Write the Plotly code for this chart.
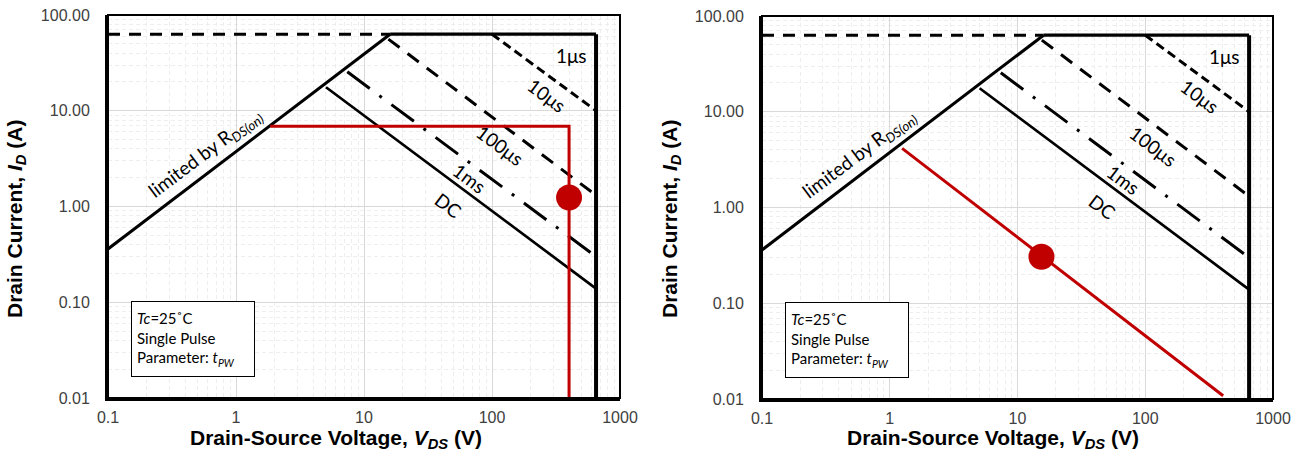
import plotly.graph_objects as go
import math

# ---------------- data ----------------
pulse_limit_V = [0.1, 16.0]          # dashed I_DM line
pulse_limit_I = [63.0, 63.0]
t1us_V = [16.0, 650.0, 650.0]        # 1 us boundary + V_DSS wall
t1us_I = [63.0, 63.0, 0.01]
t10us_V = [100.0, 650.0]
t10us_I = [63.0, 10.0]
t100us_V = [15.5, 650.0]
t100us_I = [56.0, 1.31]
t1ms_V = [7.4, 650.0]
t1ms_I = [25.5, 0.30]
dc_V = [5.05, 650.0]
dc_I = [17.6, 0.139]
rds_V = [0.1, 16.0]
rds_I = [0.36, 63.0]

left_op_V = [1.85, 400.0, 400.0]
left_op_I = [6.9, 6.9, 0.01]
left_pt_V = [400.0]
left_pt_I = [1.24]

right_op_V = [1.25, 407.0]
right_op_I = [4.15, 0.0108]
right_pt_V = [15.4]
right_pt_I = [0.306]

x_tickvals = [0.1, 1, 10, 100, 1000]
x_ticktext = ["0.1", "1", "10", "100", "1000"]
y_tickvals = [0.01, 0.1, 1, 10, 100]
y_ticktext = ["0.01", "0.10", "1.00", "10.00", "100.00"]

curve_labels = ["1μs", "10μs", "100μs", "1ms", "DC", "limited by R<sub><i>DS(on)</i></sub>"]

# ---------------- styling / layout ----------------
W, H = 1307, 456
BLACK = "#000000"
RED = "#C00000"
LABEL_FONT = "Lato, Calibri, Carlito, sans-serif"
AX_FONT = "Liberation Sans, Arial, sans-serif"

# label anchor positions in data coordinates (V, A) and rotation
label_pos = [(420, 38.2, 0), (270, 14.4, 36.8), (117, 4.38, 36.8),
             (67.3, 1.96, 36.8), (46.1, 1.035, 36.8), (0.58, 3.6, -36.8)]

panels = [
    dict(xd=[108 / W, 620 / W], yd=[1 - 398 / H, 1 - 15 / H],
         op=(left_op_V, left_op_I), pt=(left_pt_V, left_pt_I),
         ytitle_x=16, xtitle_x=336),
    dict(xd=[762 / W, 1273 / W], yd=[1 - 399 / H, 1 - 16 / H],
         op=(right_op_V, right_op_I), pt=(right_pt_V, right_pt_I),
         ytitle_x=671, xtitle_x=993),
]

minor_x = [m * 10 ** e for e in range(-1, 3) for m in range(2, 10)]
minor_y = [m * 10 ** e for e in range(-2, 2) for m in range(2, 10)]

fig = go.Figure()
annotations = []
shapes = []
layout = {}

for i, p in enumerate(panels):
    n = "" if i == 0 else str(i + 1)
    xa, ya = "x" + n, "y" + n

    def add(xv, yv, width, dash="solid", color=BLACK):
        fig.add_trace(go.Scatter(x=xv, y=yv, mode="lines", xaxis=xa, yaxis=ya,
                                 line=dict(color=color, width=width, dash=dash),
                                 showlegend=False, hoverinfo="skip"))

    add(pulse_limit_V, pulse_limit_I, 3, "12px,9px")
    add(t10us_V, t10us_I, 3, "9px,5px")
    add(t100us_V, t100us_I, 3, "14px,10px")
    add(t1ms_V, t1ms_I, 3, "28px,12px,3px,12px")
    add(dc_V, dc_I, 2.7)
    add(rds_V, rds_I, 3)
    add(t1us_V[:2], t1us_I[:2], 3.3)
    add(t1us_V[1:], t1us_I[1:], 4)
    add(p["op"][0], p["op"][1], 3, color=RED)
    fig.add_trace(go.Scatter(x=p["pt"][0], y=p["pt"][1], mode="markers", xaxis=xa, yaxis=ya,
                             marker=dict(color=RED, size=26), showlegend=False, hoverinfo="skip"))

    axis_common = dict(type="log", showgrid=True, gridcolor="#d9d9d9", gridwidth=1,
                       zeroline=False, ticks="", showline=True, linecolor=BLACK, linewidth=3,
                       automargin=False,
                       tickfont=dict(family=AX_FONT, size=16, color="#404040"),
                       tickmode="array")
    layout["xaxis" + n] = dict(axis_common, domain=p["xd"], range=[-1, 3], anchor=ya,
                               tickvals=x_tickvals, ticktext=x_ticktext, ticklabelstandoff=3,
                               minor=dict(tickvals=minor_x, showgrid=True, gridcolor="#eeeeee",
                                          griddash="4px,3px", gridwidth=1, ticks=""))
    layout["yaxis" + n] = dict(axis_common, domain=p["yd"], range=[-2, 2], anchor=xa,
                               tickvals=y_tickvals, ticktext=y_ticktext, ticklabelstandoff=12,
                               minor=dict(tickvals=minor_y, showgrid=True, gridcolor="#eeeeee",
                                          griddash="4px,3px", gridwidth=1, ticks=""))
    shapes.append(dict(type="rect", xref=xa + " domain", yref=ya + " domain", x0=0, x1=1, y0=0, y1=1,
                       line=dict(color=BLACK, width=2), layer="above"))

    for txt, (lx, ly, ang) in zip(curve_labels, label_pos):
        annotations.append(dict(x=math.log10(lx), y=math.log10(ly), xref=xa, yref=ya, text=txt,
                                showarrow=False, textangle=ang,
                                font=dict(family=LABEL_FONT, size=19, color=BLACK)))

    # parameter box
    annotations.append(dict(x=0.045, y=0.254, xref=xa + " domain", yref=ya + " domain",
                            xanchor="left", yanchor="top", width=112, height=64,
                            text="<i>Tc</i>=25˚C<br>Single Pulse<br>Parameter: <i>t</i><sub><i>PW</i></sub>",
                            align="left", valign="middle", showarrow=False, bordercolor=BLACK,
                            borderwidth=1, borderpad=5, bgcolor="white",
                            font=dict(family=LABEL_FONT, size=15, color=BLACK)))
    # axis titles
    annotations.append(dict(x=p["ytitle_x"] / W, y=1 - 219 / H, xref="paper", yref="paper",
                            xanchor="center", yanchor="middle",
                            text="<b>Drain Current, <i>I</i><sub><i>D</i></sub> (A)</b>", textangle=-90,
                            showarrow=False, font=dict(family=AX_FONT, size=21, color=BLACK)))
    annotations.append(dict(x=p["xtitle_x"] / W, y=1 - 439 / H, xref="paper", yref="paper",
                            xanchor="center", yanchor="middle",
                            text="<b>Drain-Source Voltage, <i>V</i><sub><i>DS</i></sub> (V)</b>",
                            showarrow=False, font=dict(family=AX_FONT, size=21, color=BLACK)))

fig.update_layout(width=W, height=H, margin=dict(l=0, r=0, t=0, b=0),
                  paper_bgcolor="white", plot_bgcolor="white",
                  annotations=annotations, shapes=shapes, **layout)

fig.write_html("out.html")
